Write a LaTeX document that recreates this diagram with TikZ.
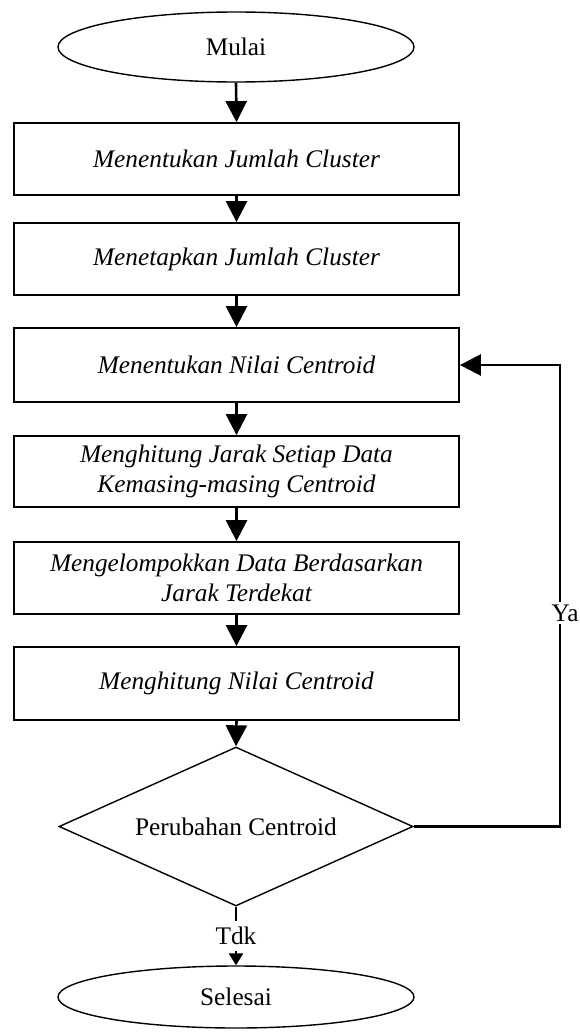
\documentclass[tikz,border=0pt]{standalone}
\usepackage{fontspec}
\setmainfont{Liberation Serif}
\usetikzlibrary{shapes.geometric,arrows.meta}
\begin{document}
\begin{tikzpicture}[x=1pt,y=-1pt,
  every node/.style={font=\fontsize{25.3}{29.5}\selectfont},
  procbox/.style={draw,line width=1.8pt,rectangle,minimum width=445pt,inner sep=0pt,align=center,font=\fontsize{25.3}{29.5}\selectfont\itshape},
  termnode/.style={draw,line width=1.4pt,ellipse,minimum width=356pt,inner sep=0pt},
  decnode/.style={draw,line width=1.4pt,diamond,aspect=2.23,minimum width=354pt,minimum height=159pt,inner sep=0pt},
  conn/.style={line width=2.6pt},
  arr/.style={conn,-{Triangle[length=21pt,width=21pt]}},
  smallarr/.style={conn,-{Triangle[length=12pt,width=14pt]}}
]
\useasboundingbox (0,0) rectangle (579,1036);
\node[termnode,minimum height=70pt] (start) at (236,47) {Mulai};
\node[procbox,minimum height=72pt] (b1) at (236.5,159) {Menentukan Jumlah Cluster};
\node[procbox,minimum height=72pt] (b2) at (236.5,259) {Menetapkan Jumlah Cluster};
\node[procbox,minimum height=74pt] (b3) at (236.5,365) {Menentukan Nilai Centroid};
\node[procbox,minimum height=71pt] (b4) at (236.5,471.5) {Menghitung Jarak Setiap Data\\Kemasing-masing Centroid};
\node[procbox,minimum height=72pt] (b5) at (236.5,578) {Mengelompokkan Data Berdasarkan\\Jarak Terdekat};
\node[procbox,minimum height=73pt] (b6) at (236.5,683.5) {Menghitung Nilai Centroid};
\node[decnode] (dec) at (236,826.5) {Perubahan Centroid};
\node[termnode,minimum height=62pt] (stop) at (236,997) {Selesai};
\node[inner xsep=0pt,inner ysep=6pt] (tdk) at (236,936) {Tdk};
\coordinate (rc) at (560,826.5);
\coordinate (rt) at (560,365);
\node[fill=white,inner sep=2pt] (ya) at (565,613) {Ya};

\draw[arr] (start.south) -- (b1.north);
\draw[arr] (b1.south) -- (b2.north);
\draw[arr] (b2.south) -- (b3.north);
\draw[arr] (b3.south) -- (b4.north);
\draw[arr] (b4.south) -- (b5.north);
\draw[arr] (b5.south) -- (b6.north);
\draw[arr] (b6.south) -- (dec.north);
\draw[conn] (dec.south) -- (tdk.north);
\draw[smallarr] (tdk.south) -- (stop.north);
\draw[conn] (dec.east) -- (rc) -- (ya.south -| rc);
\draw[arr] (ya.north -| rc) -- (rt) -- (b3.east);
\end{tikzpicture}
\end{document}
